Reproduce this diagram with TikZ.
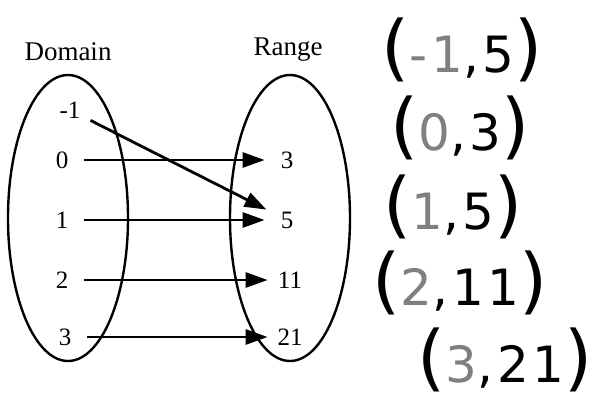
\documentclass[tikz,border=0pt]{standalone}
\usepackage{fontspec}
\setmainfont{Liberation Serif}
\newfontfamily\handfont[LetterSpace=8]{DejaVu Sans}
\usetikzlibrary{arrows.meta}

\tikzset{
  val/.style={inner sep=0pt,minimum width=22pt,minimum height=10pt,font=\fontsize{12.5}{12.5}\selectfont},
  setname/.style={font=\fontsize{13.5}{13.5}\selectfont},
  maparrow/.style={line width=1.4pt,-{Triangle[length=11pt,width=7.5pt]}},
  hand/.style={font=\handfont\fontsize{25}{25}\selectfont}
}
\newcommand\hp[1]{{\fontsize{36}{36}\selectfont #1}}

\begin{document}
\begin{tikzpicture}[x=0.5pt,y=-0.5pt]
  \useasboundingbox (0,0) rectangle (594,408);

  % the two sets
  \draw[line width=1.2pt] (68,218) ellipse [x radius=30pt,y radius=71.5pt];
  \draw[line width=1.2pt] (290,218) ellipse [x radius=30pt,y radius=71.5pt];
  \node[setname] (domain) at (68,52) {Domain};
  \node[setname] (range) at (288,50) {Range};

  % domain values
  \node[val] (dm1) at (70,110) {-1};
  \node[val] (d0) at (62,160) {0};
  \node[val] (d1) at (62,220) {1};
  \node[val] (d2) at (62,280) {2};
  \node[val] (d3) at (65,337) {3};

  % range values
  \node[val] (r3) at (287,160) {3};
  \node[val] (r5) at (287,220) {5};
  \node[val] (r11) at (290,280) {11};
  \node[val] (r21) at (290,337) {21};

  % mapping
  \draw[maparrow] (dm1) -- (r5);
  \draw[maparrow] (d0) -- (r3);
  \draw[maparrow] (d1) -- (r5);
  \draw[maparrow] (d2) -- (r11);
  \draw[maparrow] (d3) -- (r21);

  % ordered pairs, written by hand
  \node[hand] (p1) at (462,50) {\hp{(}\textcolor{gray}{-1},5\hp{)}};
  \node[hand] (p2) at (460,128) {\hp{(}\textcolor{gray}{0},3\hp{)}};
  \node[hand] (p3) at (453,207) {\hp{(}\textcolor{gray}{1},5\hp{)}};
  \node[hand] (p4) at (460,283) {\hp{(}\textcolor{gray}{2},11\hp{)}};
  \node[hand] (p5) at (505,360) {\hp{(}\textcolor{gray}{3},21\hp{)}};
\end{tikzpicture}
\end{document}
